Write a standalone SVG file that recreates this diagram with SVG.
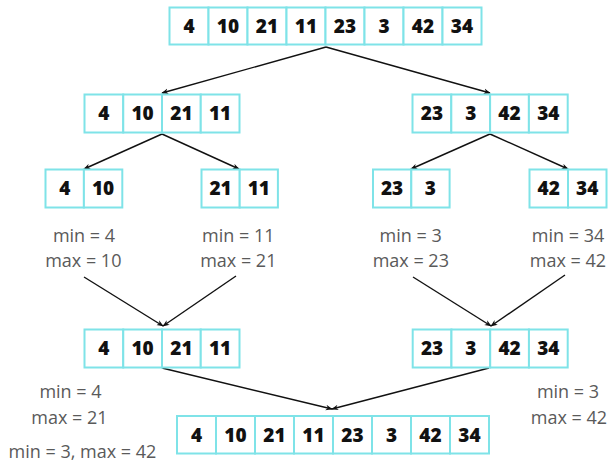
<svg xmlns="http://www.w3.org/2000/svg" width="608" height="463" viewBox="0 0 608 463">
<style>
.c{fill:#fff;stroke:#7fe3e8;stroke-width:2}
.n{font-family:"Open Sans","DejaVu Sans",sans-serif;font-weight:800;font-size:19px;fill:#111;text-anchor:middle}
.l{font-family:"Open Sans","DejaVu Sans",sans-serif;font-weight:400;font-size:18px;fill:#5a5a5a;text-anchor:middle}
.e{stroke:#111;stroke-width:1.4;fill:none;marker-end:url(#a)}
</style>
<defs>
<marker id="a" viewBox="0 0 10 10" refX="9" refY="5" markerWidth="7" markerHeight="7" orient="auto" markerUnits="userSpaceOnUse">
<path d="M0,1 L10,5 L0,9 L3,5 z" fill="#111"/>
</marker>
</defs>
<g id="connectors">
<line class="e" x1="326" y1="47" x2="162" y2="93"/>
<line class="e" x1="326" y1="47" x2="490" y2="93"/>
<line class="e" x1="162" y1="134" x2="84" y2="169"/>
<line class="e" x1="162" y1="134" x2="239" y2="169"/>
<line class="e" x1="490" y1="134" x2="411" y2="169"/>
<line class="e" x1="490" y1="134" x2="568" y2="169"/>
<line class="e" x1="84" y1="277" x2="163" y2="326"/>
<line class="e" x1="236" y1="276" x2="163" y2="326"/>
<line class="e" x1="413" y1="277" x2="491" y2="326"/>
<line class="e" x1="565" y1="275" x2="491" y2="326"/>
<line class="e" x1="162" y1="368" x2="332" y2="409"/>
<line class="e" x1="489" y1="368" x2="332" y2="409"/>
</g>
<g id="row1">
<rect class="c" x="169.5" y="7.5" width="39" height="37"/><text class="n" x="189" y="32.5">4</text>
<rect class="c" x="208.5" y="7.5" width="39" height="37"/><text class="n" x="228" y="32.5">10</text>
<rect class="c" x="247.5" y="7.5" width="39" height="37"/><text class="n" x="267" y="32.5">21</text>
<rect class="c" x="286.5" y="7.5" width="39" height="37"/><text class="n" x="306" y="32.5">11</text>
<rect class="c" x="325.5" y="7.5" width="39" height="37"/><text class="n" x="345" y="32.5">23</text>
<rect class="c" x="364.5" y="7.5" width="39" height="37"/><text class="n" x="384" y="32.5">3</text>
<rect class="c" x="403.5" y="7.5" width="39" height="37"/><text class="n" x="423" y="32.5">42</text>
<rect class="c" x="442.5" y="7.5" width="39" height="37"/><text class="n" x="462" y="32.5">34</text>
</g>
<g id="row2-left">
<rect class="c" x="84.5" y="94.5" width="38.75" height="38"/><text class="n" x="103.9" y="120">4</text>
<rect class="c" x="123.25" y="94.5" width="38.75" height="38"/><text class="n" x="142.6" y="120">10</text>
<rect class="c" x="162" y="94.5" width="38.75" height="38"/><text class="n" x="181.4" y="120">21</text>
<rect class="c" x="200.75" y="94.5" width="38.75" height="38"/><text class="n" x="220.1" y="120">11</text>
</g>
<g id="row2-right">
<rect class="c" x="412.5" y="94.5" width="38.8" height="38"/><text class="n" x="431.9" y="120">23</text>
<rect class="c" x="451.3" y="94.5" width="38.8" height="38"/><text class="n" x="470.7" y="120">3</text>
<rect class="c" x="490.1" y="94.5" width="38.8" height="38"/><text class="n" x="509.5" y="120">42</text>
<rect class="c" x="528.9" y="94.5" width="38.8" height="38"/><text class="n" x="548.3" y="120">34</text>
</g>
<g id="row3-a">
<rect class="c" x="45.5" y="169.5" width="38.4" height="38"/><text class="n" x="64.7" y="195">4</text>
<rect class="c" x="83.9" y="169.5" width="38.4" height="38"/><text class="n" x="103.1" y="195">10</text>
</g>
<g id="row3-b">
<rect class="c" x="201.5" y="169.5" width="38.2" height="38"/><text class="n" x="220.6" y="195">21</text>
<rect class="c" x="239.7" y="169.5" width="38.2" height="38"/><text class="n" x="258.8" y="195">11</text>
</g>
<g id="row3-c">
<rect class="c" x="373" y="169.5" width="38.3" height="38"/><text class="n" x="392.1" y="195">23</text>
<rect class="c" x="411.3" y="169.5" width="38.3" height="38"/><text class="n" x="430.4" y="195">3</text>
</g>
<g id="row3-d">
<rect class="c" x="529.5" y="169.5" width="38.5" height="38"/><text class="n" x="548.7" y="195">42</text>
<rect class="c" x="568" y="169.5" width="38.5" height="38"/><text class="n" x="587.2" y="195">34</text>
</g>
<g id="labels3">
<text class="l" x="84" y="242">min = 4</text>
<text class="l" x="83.3" y="267">max = 10</text>
<text class="l" x="238.3" y="242">min = 11</text>
<text class="l" x="238.3" y="267">max = 21</text>
<text class="l" x="410.6" y="242">min = 3</text>
<text class="l" x="410.8" y="267">max = 23</text>
<text class="l" x="568" y="242">min = 34</text>
<text class="l" x="568" y="267">max = 42</text>
</g>
<g id="row4-left">
<rect class="c" x="84.5" y="329.5" width="38.75" height="38"/><text class="n" x="103.9" y="355">4</text>
<rect class="c" x="123.25" y="329.5" width="38.75" height="38"/><text class="n" x="142.6" y="355">10</text>
<rect class="c" x="162" y="329.5" width="38.75" height="38"/><text class="n" x="181.4" y="355">21</text>
<rect class="c" x="200.75" y="329.5" width="38.75" height="38"/><text class="n" x="220.1" y="355">11</text>
</g>
<g id="row4-right">
<rect class="c" x="412.7" y="329.5" width="38.75" height="38"/><text class="n" x="432.1" y="355">23</text>
<rect class="c" x="451.45" y="329.5" width="38.75" height="38"/><text class="n" x="470.8" y="355">3</text>
<rect class="c" x="490.2" y="329.5" width="38.75" height="38"/><text class="n" x="509.6" y="355">42</text>
<rect class="c" x="528.95" y="329.5" width="38.75" height="38"/><text class="n" x="548.3" y="355">34</text>
</g>
<g id="labels4">
<text class="l" x="70.5" y="398">min = 4</text>
<text class="l" x="69.5" y="424">max = 21</text>
<text class="l" x="568" y="398">min = 3</text>
<text class="l" x="569" y="424">max = 42</text>
<text class="l" x="82.5" y="458">min = 3, max = 42</text>
</g>
<g id="row5">
<rect class="c" x="177" y="416" width="39" height="37.5"/><text class="n" x="196.5" y="441.5">4</text>
<rect class="c" x="216" y="416" width="39" height="37.5"/><text class="n" x="235.5" y="441.5">10</text>
<rect class="c" x="255" y="416" width="39" height="37.5"/><text class="n" x="274.5" y="441.5">21</text>
<rect class="c" x="294" y="416" width="39" height="37.5"/><text class="n" x="313.5" y="441.5">11</text>
<rect class="c" x="333" y="416" width="39" height="37.5"/><text class="n" x="352.5" y="441.5">23</text>
<rect class="c" x="372" y="416" width="39" height="37.5"/><text class="n" x="391.5" y="441.5">3</text>
<rect class="c" x="411" y="416" width="39" height="37.5"/><text class="n" x="430.5" y="441.5">42</text>
<rect class="c" x="450" y="416" width="39" height="37.5"/><text class="n" x="469.5" y="441.5">34</text>
</g>
</svg>
